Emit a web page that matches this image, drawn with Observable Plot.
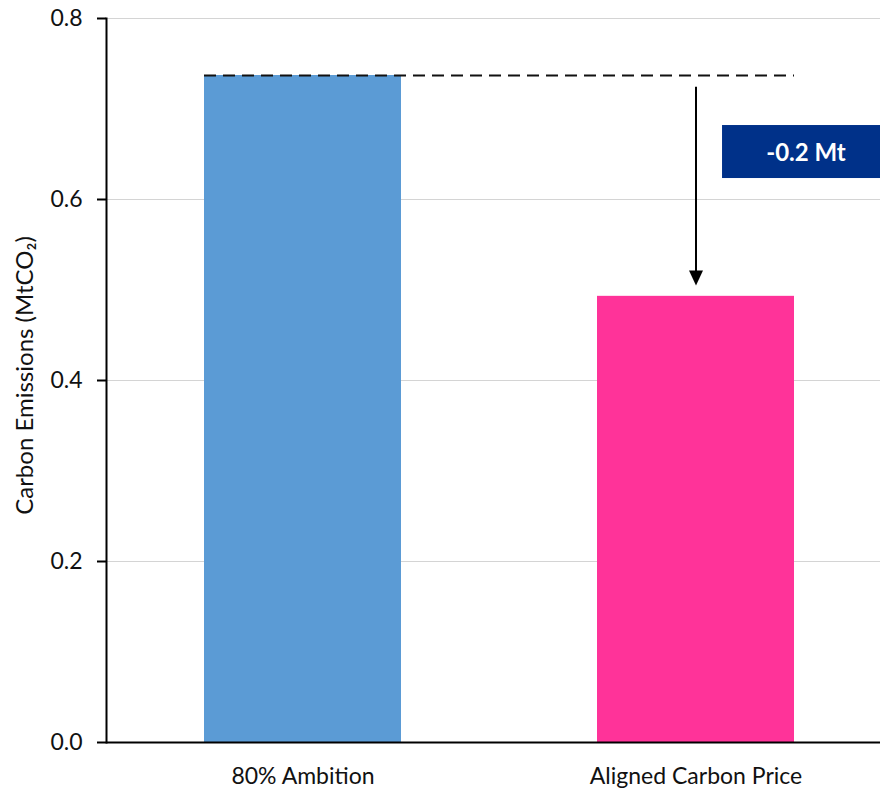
<!DOCTYPE html>
<html>
<head>
<meta charset="utf-8">
<script src="https://cdn.jsdelivr.net/npm/d3@7"></script>
<script src="https://cdn.jsdelivr.net/npm/@observablehq/plot@0.6"></script>
<style>
  html, body { margin: 0; padding: 0; background: #fff; }
  #chart svg { display: block; }
</style>
</head>
<body>
<div id="chart"></div>
<script>
// ---- data ----
const categories = ["80% Ambition", "Aligned Carbon Price"];
const emissions = [0.737, 0.493];
const barColors = ["#5B9BD5", "#FF3399"];
const yTicks = [0, 0.2, 0.4, 0.6, 0.8];
const yLabel = "Carbon Emissions (MtCO\u2082)";
const deltaLabel = "-0.2 Mt";
const deltaLabelY = 0.651;
const arrowStartY = 0.724;
const arrowTipY = 0.505;

const rows = categories.map((c, i) => ({category: c, value: emissions[i], color: barColors[i]}));

const downTriangle = {
  draw(ctx) {
    ctx.moveTo(0, 0);
    ctx.lineTo(-7, -15);
    ctx.lineTo(7, -15);
    ctx.closePath();
  }
};

const font = "Lato, 'Open Sans', sans-serif";

const chart = Plot.plot({
  width: 880,
  height: 793,
  marginLeft: 106,
  marginRight: 0,
  marginTop: 18,
  marginBottom: 51,
  style: {fontFamily: font, fontSize: "22px", color: "#111", background: "#fff"},
  x: {domain: categories, range: [106, 892], paddingInner: 0.5, paddingOuter: 0.25, axis: null},
  y: {domain: [0, 0.8], axis: null},
  marks: [
    Plot.ruleY(yTicks.slice(1), {stroke: "#d4d4d4", strokeWidth: 1.2}),
    Plot.barY(rows, {x: "category", y: "value", fill: "color"}),
    Plot.axisY({ticks: yTicks, tickFormat: d3.format(".1f"), tickSize: 9, tickPadding: 15, label: null, fontSize: 23, strokeWidth: 2, stroke: "#000"}),
    Plot.axisX({tickSize: 0, tickPadding: 25, label: null, fontSize: 23}),
    Plot.frame({anchor: "left", stroke: "#000", strokeWidth: 2}),
    Plot.ruleY([0], {stroke: "#000", strokeWidth: 2}),
    // dashed reference line at 80% Ambition level
    Plot.ruleY([rows[0]], {y: "value", x1: () => categories[0], x2: () => categories[1], stroke: "#111", strokeWidth: 2, strokeDasharray: "12,7"}),
    // arrow
    Plot.ruleX([rows[1]], {x: "category", y1: () => arrowStartY, y2: () => arrowTipY + 0.014, stroke: "#000", strokeWidth: 2}),
    Plot.dot([rows[1]], {x: "category", y: () => arrowTipY, symbol: downTriangle, fill: "#000", stroke: null, r: 5}),
    // delta label
    Plot.text([deltaLabel], {x: () => categories[1], y: () => deltaLabelY, text: d => d, dx: 110, fill: "#fff", fontWeight: "bold", fontSize: 24}),
    // y label
    Plot.text([yLabel], {frameAnchor: "left", textAnchor: "middle", rotate: -90, dx: -81, dy: -5, text: d => d, fontSize: 24, fill: "#111"})
  ]
});

document.getElementById("chart").appendChild(chart);

// navy box behind the delta label
chart.querySelectorAll("text").forEach(t => {
  if (t.textContent !== deltaLabel) return;
  const bb = t.getBBox();
  const w = 168, h = 53;
  const cx = bb.x + bb.width / 2, cy = bb.y + bb.height / 2;
  const rect = document.createElementNS("http://www.w3.org/2000/svg", "rect");
  rect.setAttribute("x", cx - w / 2);
  rect.setAttribute("y", cy - h / 2);
  rect.setAttribute("width", w);
  rect.setAttribute("height", h);
  rect.setAttribute("fill", "#003189");
  const tr = t.getAttribute("transform");
  if (tr) rect.setAttribute("transform", tr);
  t.parentNode.insertBefore(rect, t);
});
</script>
</body>
</html>
